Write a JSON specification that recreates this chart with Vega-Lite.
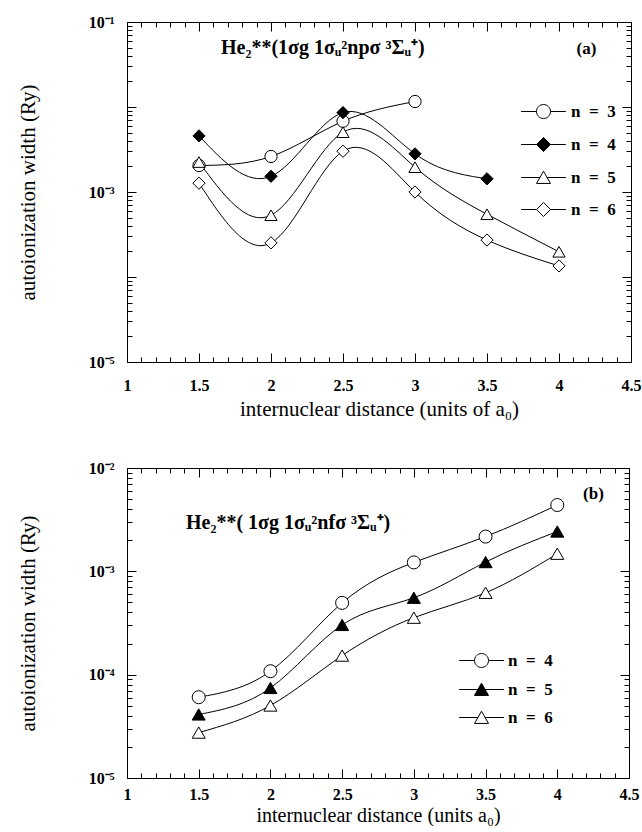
{
  "$schema": "https://vega.github.io/schema/vega-lite/v6.json",
  "padding": {"left": 16, "top": 13, "right": 0, "bottom": 0},
  "spacing": 39,
  "resolve": {"scale": {"shape": "independent", "fill": "independent"}, "legend": {"shape": "independent", "fill": "independent"}},
  "datasets": {
    "a": [
      {"r": 1.5, "w": 0.00205, "n": "n = 3"},
      {"r": 2.0, "w": 0.00262, "n": "n = 3"},
      {"r": 2.5, "w": 0.0068, "n": "n = 3"},
      {"r": 3.0, "w": 0.0116, "n": "n = 3"},
      {"r": 1.5, "w": 0.00457, "n": "n = 4"},
      {"r": 2.0, "w": 0.00153, "n": "n = 4"},
      {"r": 2.5, "w": 0.0086, "n": "n = 4"},
      {"r": 3.0, "w": 0.00281, "n": "n = 4"},
      {"r": 3.5, "w": 0.00143, "n": "n = 4"},
      {"r": 1.5, "w": 0.00225, "n": "n = 5"},
      {"r": 2.0, "w": 0.000533, "n": "n = 5"},
      {"r": 2.5, "w": 0.00505, "n": "n = 5"},
      {"r": 3.0, "w": 0.00196, "n": "n = 5"},
      {"r": 3.5, "w": 0.000547, "n": "n = 5"},
      {"r": 4.0, "w": 0.000198, "n": "n = 5"},
      {"r": 1.5, "w": 0.00127, "n": "n = 6"},
      {"r": 2.0, "w": 0.000252, "n": "n = 6"},
      {"r": 2.5, "w": 0.00302, "n": "n = 6"},
      {"r": 3.0, "w": 0.001, "n": "n = 6"},
      {"r": 3.5, "w": 0.000272, "n": "n = 6"},
      {"r": 4.0, "w": 0.000135, "n": "n = 6"}
    ],
    "b": [
      {"r": 1.5, "w": 0.0000605, "n": "n = 4"},
      {"r": 2.0, "w": 0.000108, "n": "n = 4"},
      {"r": 2.5, "w": 0.000495, "n": "n = 4"},
      {"r": 3.0, "w": 0.00122, "n": "n = 4"},
      {"r": 3.5, "w": 0.00217, "n": "n = 4"},
      {"r": 4.0, "w": 0.00438, "n": "n = 4"},
      {"r": 1.5, "w": 0.0000412, "n": "n = 5"},
      {"r": 2.0, "w": 0.0000744, "n": "n = 5"},
      {"r": 2.5, "w": 0.000303, "n": "n = 5"},
      {"r": 3.0, "w": 0.000555, "n": "n = 5"},
      {"r": 3.5, "w": 0.00123, "n": "n = 5"},
      {"r": 4.0, "w": 0.00243, "n": "n = 5"},
      {"r": 1.5, "w": 0.0000275, "n": "n = 6"},
      {"r": 2.0, "w": 0.0000503, "n": "n = 6"},
      {"r": 2.5, "w": 0.000153, "n": "n = 6"},
      {"r": 3.0, "w": 0.000356, "n": "n = 6"},
      {"r": 3.5, "w": 0.00062, "n": "n = 6"},
      {"r": 4.0, "w": 0.00148, "n": "n = 6"}
    ]
  },
  "vconcat": [
    {
      "width": 504,
      "height": 340,
      "data": {"name": "a"},
      "title": {"text": "He₂**(1σg 1σᵤ²npσ  ³Σᵤ⁺)", "anchor": "start", "frame": "group", "orient": "top", "offset": -60, "dx": 94, "baseline": "alphabetic", "fontSize": 20, "font": "Liberation Serif", "fontWeight": "bold", "color": "black"},
      "layer": [
        {
          "mark": {"type": "line", "interpolate": "natural", "color": "black", "strokeWidth": 1},
          "encoding": {
            "x": {"field": "r", "type": "quantitative", "scale": {"domain": [1, 4.5], "nice": false, "zero": false},
              "axis": {"orient": "bottom", "values": [1, 1.5, 2, 2.5, 3, 3.5, 4, 4.5], "tickSize": -9, "labelPadding": 24, "labelDx": -5, "labelExpr": "'' + datum.value", "labelFlush": false, "labelOverlap": false, "title": "internuclear distance (units of a₀)", "titlePadding": 5}},
            "y": {"field": "w", "type": "quantitative", "scale": {"type": "log", "domain": [0.00001, 0.1], "nice": false},
              "axis": {"orient": "left", "values": [0.00001, 0.0001, 0.001, 0.01, 0.1], "tickSize": -9, "labelPadding": 22, "labelFlush": false, "labelOverlap": false, "labelExpr": "(round(log(datum.value)/LN10) % 2 == 0) ? '' : '10⁻' + ['0','¹','²','³','⁴','⁵'][-round(log(datum.value)/LN10)]", "title": "autoionization width (Ry)", "titlePadding": 50}},
            "detail": {"field": "n"}
          }
        },
        {
          "mark": {"type": "point", "filled": true, "stroke": "black", "strokeWidth": 1, "size": 150, "opacity": 1},
          "encoding": {
            "x": {"field": "r", "type": "quantitative",
              "axis": {"orient": "top", "values": [1, 1.5, 2, 2.5, 3, 3.5, 4, 4.5], "tickSize": -9, "labels": false, "title": "(a)", "titleX": 459, "titleY": 26, "titleAlign": "center", "titleBaseline": "middle", "titleFontWeight": "bold", "titleFontSize": 17, "titleAngle": 0}},
            "y": {"field": "w", "type": "quantitative",
              "axis": {"orient": "right", "values": [0.00001, 0.0001, 0.001, 0.01, 0.1], "tickSize": -9, "labels": false, "title": null}},
            "shape": {"field": "n", "type": "nominal", "scale": {"domain": ["n = 3", "n = 4", "n = 5", "n = 6"], "range": ["circle", "diamond", "triangle-up", "diamond"]}, "legend": null},
            "fill": {"field": "n", "type": "nominal", "scale": {"domain": ["n = 3", "n = 4", "n = 5", "n = 6"], "range": ["white", "black", "white", "white"]}, "legend": null}
          }
        },
        {
          "transform": [{"filter": "false"}],
          "mark": {"type": "point", "filled": true, "stroke": "black", "strokeWidth": 1, "size": 196, "opacity": 1},
          "encoding": {
            "x": {"field": "r", "type": "quantitative",
              "axis": {"orient": "bottom", "values": [1.1, 1.2, 1.3, 1.4, 1.6, 1.7, 1.8, 1.9, 2.1, 2.2, 2.3, 2.4, 2.6, 2.7, 2.8, 2.9, 3.1, 3.2, 3.3, 3.4, 3.6, 3.7, 3.8, 3.9, 4.1, 4.2, 4.3, 4.4], "tickSize": -5, "labels": false, "title": null}},
            "y": {"field": "w", "type": "quantitative",
              "axis": {"orient": "left", "values": [0.00002, 0.00003, 0.00004, 0.00005, 0.00006, 0.00007, 0.00008, 0.00009, 0.0002, 0.0003, 0.0004, 0.0005, 0.0006, 0.0007, 0.0008, 0.0009, 0.002, 0.003, 0.004, 0.005, 0.006, 0.007, 0.008, 0.009, 0.02, 0.03, 0.04, 0.05, 0.06, 0.07, 0.08, 0.09], "tickSize": -5, "labels": false, "title": null}},
            "shape": {"field": "n", "type": "nominal", "scale": {"domain": ["n = 3", "n = 4", "n = 5", "n = 6"], "range": ["M-3.2,0H-1M1,0H3.2M-1,0A1,1,0,1,1,1,0A1,1,0,1,1,-1,0Z", "M-3.2,0H-1M1,0H3.2M-1,0L0,-1L1,0L0,1Z", "M-3.2,0H-0.5M0.5,0H3.2M0,-0.9L1,0.85H-1Z", "M-3.2,0H-1M1,0H3.2M-1,0L0,-1L1,0L0,1Z"]},
              "legend": {"orient": "none", "legendX": 408, "legendY": 81, "title": null, "padding": 0, "symbolSize": 196, "symbolStrokeColor": "black", "symbolStrokeWidth": 1, "symbolOpacity": 1, "rowPadding": 14, "labelOffset": 19, "labelFont": "Liberation Serif", "labelFontSize": 17, "labelFontWeight": "bold", "labelColor": "black", "labelExpr": "'n\u2002=\u2002' + slice(datum.label, 4)",
                "encoding": {"symbols": {"stroke": {"value": "black"}, "strokeWidth": {"value": 1}, "opacity": {"value": 1}}}}},
            "fill": {"field": "n", "type": "nominal", "scale": {"domain": ["n = 3", "n = 4", "n = 5", "n = 6"], "range": ["white", "black", "white", "white"]},
              "legend": {"orient": "none", "legendX": 408, "legendY": 81, "title": null, "padding": 0, "symbolSize": 196, "symbolStrokeColor": "black", "symbolStrokeWidth": 1, "symbolOpacity": 1, "rowPadding": 14, "labelOffset": 19, "labelFont": "Liberation Serif", "labelFontSize": 17, "labelFontWeight": "bold", "labelColor": "black", "labelExpr": "'n\u2002=\u2002' + slice(datum.label, 4)",
                "encoding": {"symbols": {"stroke": {"value": "black"}, "strokeWidth": {"value": 1}, "opacity": {"value": 1}}}}}
          }
        },
        {
          "transform": [{"filter": "false"}],
          "mark": {"type": "point", "opacity": 0},
          "encoding": {
            "x": {"field": "r", "type": "quantitative",
              "axis": {"orient": "top", "values": [1.1, 1.2, 1.3, 1.4, 1.6, 1.7, 1.8, 1.9, 2.1, 2.2, 2.3, 2.4, 2.6, 2.7, 2.8, 2.9, 3.1, 3.2, 3.3, 3.4, 3.6, 3.7, 3.8, 3.9, 4.1, 4.2, 4.3, 4.4], "tickSize": -5, "labels": false, "title": null}},
            "y": {"field": "w", "type": "quantitative",
              "axis": {"orient": "right", "values": [0.00002, 0.00003, 0.00004, 0.00005, 0.00006, 0.00007, 0.00008, 0.00009, 0.0002, 0.0003, 0.0004, 0.0005, 0.0006, 0.0007, 0.0008, 0.0009, 0.002, 0.003, 0.004, 0.005, 0.006, 0.007, 0.008, 0.009, 0.02, 0.03, 0.04, 0.05, 0.06, 0.07, 0.08, 0.09], "tickSize": -5, "labels": false, "title": null}}
          }
        }
      ],
      "resolve": {"axis": {"x": "independent", "y": "independent"}, "scale": {"shape": "independent", "fill": "independent"}}
    },
    {
      "width": 502,
      "height": 310,
      "data": {"name": "b"},
      "title": {"text": "He₂**( 1σg 1σᵤ²nfσ  ³Σᵤ⁺)", "anchor": "start", "frame": "group", "orient": "top", "offset": -89, "dx": 59, "baseline": "alphabetic", "fontSize": 20, "font": "Liberation Serif", "fontWeight": "bold", "color": "black"},
      "layer": [
        {
          "mark": {"type": "line", "interpolate": "natural", "color": "black", "strokeWidth": 1},
          "encoding": {
            "x": {"field": "r", "type": "quantitative", "scale": {"domain": [1, 4.5], "nice": false, "zero": false},
              "axis": {"orient": "bottom", "values": [1, 1.5, 2, 2.5, 3, 3.5, 4, 4.5], "tickSize": -9, "labelPadding": 17, "labelDx": -4, "labelExpr": "'' + datum.value", "labelFlush": false, "labelOverlap": false, "title": "internuclear distance (units a₀)", "titleFontSize": 20, "titlePadding": 3}},
            "y": {"field": "w", "type": "quantitative", "scale": {"type": "log", "domain": [0.00001, 0.01], "nice": false},
              "axis": {"orient": "left", "values": [0.00001, 0.0001, 0.001, 0.01], "tickSize": -9, "labelPadding": 22, "labelFlush": false, "labelOverlap": false, "labelExpr": "'10⁻' + ['0','¹','²','³','⁴','⁵'][-round(log(datum.value)/LN10)]", "title": "autoionization width (Ry)", "titlePadding": 50}},
            "detail": {"field": "n"}
          }
        },
        {
          "mark": {"type": "point", "filled": true, "stroke": "black", "strokeWidth": 1, "size": 170, "opacity": 1},
          "encoding": {
            "x": {"field": "r", "type": "quantitative",
              "axis": {"orient": "top", "values": [1, 1.5, 2, 2.5, 3, 3.5, 4, 4.5], "tickSize": -9, "labels": false, "title": "(b)", "titleX": 466, "titleY": 25, "titleAlign": "center", "titleBaseline": "middle", "titleFontWeight": "bold", "titleFontSize": 17, "titleAngle": 0}},
            "y": {"field": "w", "type": "quantitative",
              "axis": {"orient": "right", "values": [0.00001, 0.0001, 0.001, 0.01], "tickSize": -9, "labels": false, "title": null}},
            "shape": {"field": "n", "type": "nominal", "scale": {"domain": ["n = 4", "n = 5", "n = 6"], "range": ["circle", "triangle-up", "triangle-up"]}, "legend": null},
            "fill": {"field": "n", "type": "nominal", "scale": {"domain": ["n = 4", "n = 5", "n = 6"], "range": ["white", "black", "white"]}, "legend": null}
          }
        },
        {
          "transform": [{"filter": "false"}],
          "mark": {"type": "point", "filled": true, "stroke": "black", "strokeWidth": 1, "size": 196, "opacity": 1},
          "encoding": {
            "x": {"field": "r", "type": "quantitative",
              "axis": {"orient": "bottom", "values": [1.1, 1.2, 1.3, 1.4, 1.6, 1.7, 1.8, 1.9, 2.1, 2.2, 2.3, 2.4, 2.6, 2.7, 2.8, 2.9, 3.1, 3.2, 3.3, 3.4, 3.6, 3.7, 3.8, 3.9, 4.1, 4.2, 4.3, 4.4], "tickSize": -5, "labels": false, "title": null}},
            "y": {"field": "w", "type": "quantitative",
              "axis": {"orient": "left", "values": [0.00002, 0.00003, 0.00004, 0.00005, 0.00006, 0.00007, 0.00008, 0.00009, 0.0002, 0.0003, 0.0004, 0.0005, 0.0006, 0.0007, 0.0008, 0.0009, 0.002, 0.003, 0.004, 0.005, 0.006, 0.007, 0.008, 0.009], "tickSize": -5, "labels": false, "title": null}},
            "shape": {"field": "n", "type": "nominal", "scale": {"domain": ["n = 4", "n = 5", "n = 6"], "range": ["M-3.2,0H-1M1,0H3.2M-1,0A1,1,0,1,1,1,0A1,1,0,1,1,-1,0Z", "M-3.2,0H-0.5M0.5,0H3.2M0,-0.9L1,0.85H-1Z", "M-3.2,0H-0.5M0.5,0H3.2M0,-0.9L1,0.85H-1Z"]},
              "legend": {"orient": "none", "legendX": 346, "legendY": 184, "title": null, "padding": 0, "symbolSize": 196, "symbolStrokeColor": "black", "symbolStrokeWidth": 1, "symbolOpacity": 1, "rowPadding": 10, "labelOffset": 18, "labelFont": "Liberation Serif", "labelFontSize": 17, "labelFontWeight": "bold", "labelColor": "black", "labelExpr": "'n\u2002=\u2002' + slice(datum.label, 4)",
                "encoding": {"symbols": {"stroke": {"value": "black"}, "strokeWidth": {"value": 1}, "opacity": {"value": 1}}}}},
            "fill": {"field": "n", "type": "nominal", "scale": {"domain": ["n = 4", "n = 5", "n = 6"], "range": ["white", "black", "white"]},
              "legend": {"orient": "none", "legendX": 346, "legendY": 184, "title": null, "padding": 0, "symbolSize": 196, "symbolStrokeColor": "black", "symbolStrokeWidth": 1, "symbolOpacity": 1, "rowPadding": 10, "labelOffset": 18, "labelFont": "Liberation Serif", "labelFontSize": 17, "labelFontWeight": "bold", "labelColor": "black", "labelExpr": "'n\u2002=\u2002' + slice(datum.label, 4)",
                "encoding": {"symbols": {"stroke": {"value": "black"}, "strokeWidth": {"value": 1}, "opacity": {"value": 1}}}}}
          }
        },
        {
          "transform": [{"filter": "false"}],
          "mark": {"type": "point", "opacity": 0},
          "encoding": {
            "x": {"field": "r", "type": "quantitative",
              "axis": {"orient": "top", "values": [1.1, 1.2, 1.3, 1.4, 1.6, 1.7, 1.8, 1.9, 2.1, 2.2, 2.3, 2.4, 2.6, 2.7, 2.8, 2.9, 3.1, 3.2, 3.3, 3.4, 3.6, 3.7, 3.8, 3.9, 4.1, 4.2, 4.3, 4.4], "tickSize": -5, "labels": false, "title": null}},
            "y": {"field": "w", "type": "quantitative",
              "axis": {"orient": "right", "values": [0.00002, 0.00003, 0.00004, 0.00005, 0.00006, 0.00007, 0.00008, 0.00009, 0.0002, 0.0003, 0.0004, 0.0005, 0.0006, 0.0007, 0.0008, 0.0009, 0.002, 0.003, 0.004, 0.005, 0.006, 0.007, 0.008, 0.009], "tickSize": -5, "labels": false, "title": null}}
          }
        }
      ],
      "resolve": {"axis": {"x": "independent", "y": "independent"}, "scale": {"shape": "independent", "fill": "independent"}}
    }
  ],
  "config": {
    "view": {"stroke": "black", "strokeWidth": 1},
    "background": "white",
    "axis": {"labelFont": "Liberation Serif", "labelFontWeight": "bold", "labelFontSize": 16, "labelColor": "black", "titleFont": "Liberation Serif", "titleFontWeight": "normal", "titleFontSize": 21, "titleColor": "black", "tickColor": "black", "tickWidth": 1, "domain": false, "grid": false}
  }
}
